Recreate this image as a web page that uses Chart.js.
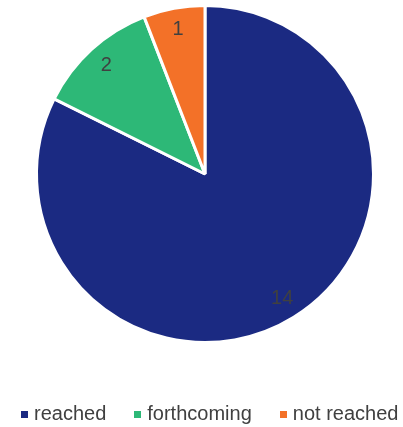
<!DOCTYPE html>
<html>
<head>
<meta charset="utf-8">
<script src="https://cdn.jsdelivr.net/npm/chart.js@4.4.0/dist/chart.umd.min.js"></script>
<style>
  html, body { margin: 0; padding: 0; background: #ffffff; }
  #wrap { position: relative; width: 403px; height: 427px; }
  #legend {
    position: absolute; left: 21px; top: 402px;
    display: flex; align-items: center;
    font: 20px "Liberation Sans", Arial, sans-serif; color: #404040;
    white-space: nowrap; line-height: 22px;
  }
  #legend .item { display: flex; align-items: center; margin-right: 28px; }
  #legend .item:last-child { margin-right: 0; }
  #legend .box { width: 7px; height: 7px; margin-right: 6px; margin-top: 2px; }
</style>
</head>
<body>
<div id="wrap">
  <canvas id="pie-chart" width="403" height="427"></canvas>
  <div id="legend"></div>
</div>
<script>
const categories = ['reached', 'forthcoming', 'not reached'];
const counts = [14, 2, 1];
const sliceColors = ['#1b2a82', '#2db877', '#f37128'];

// draws the value inside each slice, a bit in from the rim
const sliceLabels = {
    id: 'sliceLabels',
    afterDatasetsDraw(chart) {
        const ctx = chart.ctx;
        const meta = chart.getDatasetMeta(0);
        ctx.save();
        ctx.fillStyle = '#404040';
        ctx.font = '20px "Liberation Sans", Arial, sans-serif';
        ctx.textAlign = 'center';
        ctx.textBaseline = 'middle';
        meta.data.forEach((arc, i) => {
            const mid = (arc.startAngle + arc.endAngle) / 2;
            const r = arc.outerRadius * 0.87;
            ctx.fillText(String(counts[i]), arc.x + Math.cos(mid) * r, arc.y + Math.sin(mid) * r);
        });
        ctx.restore();
    }
};

function buildLegend() {
    const legend = document.getElementById('legend');
    categories.forEach((name, i) => {
        const item = document.createElement('span');
        item.className = 'item';
        const box = document.createElement('span');
        box.className = 'box';
        box.style.background = sliceColors[i];
        const txt = document.createElement('span');
        txt.textContent = name;
        item.appendChild(box);
        item.appendChild(txt);
        legend.appendChild(item);
    });
}

document.addEventListener('DOMContentLoaded', function() {
    buildLegend();
    const ctx = document.getElementById('pie-chart').getContext('2d');
    new Chart(ctx, {
        type: 'pie',
        data: {
            labels: categories,
            datasets: [{
                data: counts,
                backgroundColor: sliceColors,
                borderColor: '#ffffff',
                borderWidth: 3
            }]
        },
        options: {
            responsive: false,
            animation: false,
            layout: {
                padding: { left: 35, right: 28, top: 4, bottom: 83 }
            },
            plugins: {
                legend: { display: false },
                tooltip: { enabled: false }
            }
        },
        plugins: [sliceLabels]
    });
});
</script>
</body>
</html>
